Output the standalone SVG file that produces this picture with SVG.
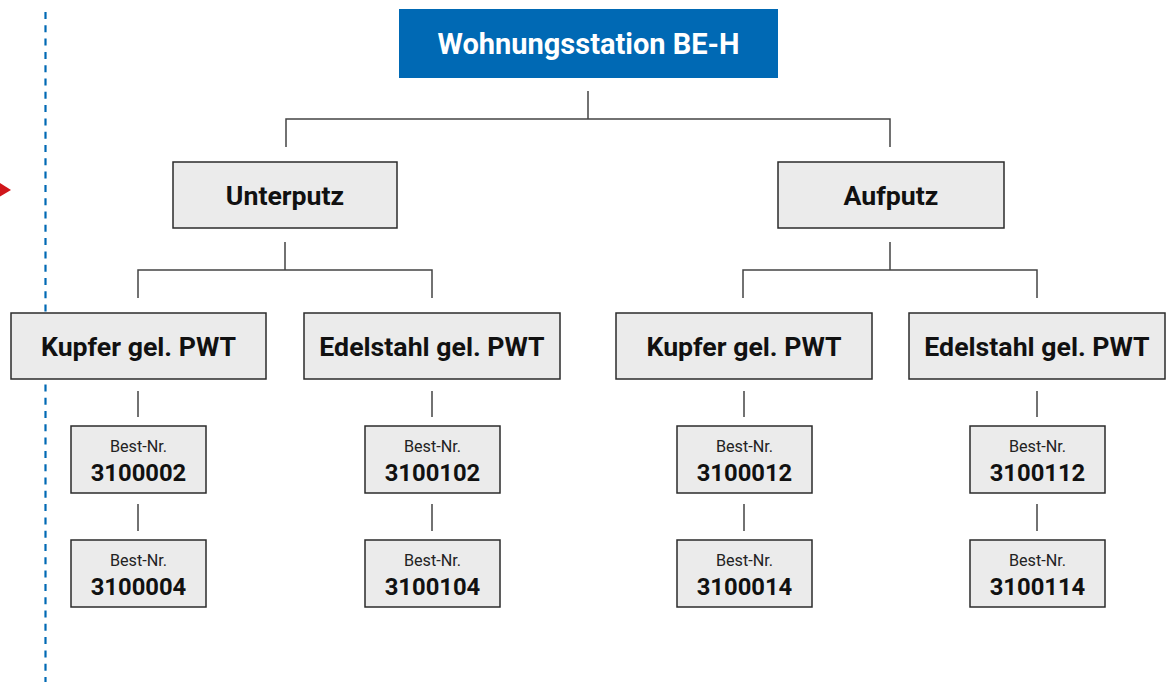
<svg xmlns="http://www.w3.org/2000/svg" width="1166" height="682" viewBox="0 0 1166 682">
<style>
.box{fill:#ebebeb;stroke:#2b2b2b;stroke-width:1.5}
.t{font-family:Roboto,"Liberation Sans",sans-serif;font-weight:bold;fill:#111;text-anchor:middle}
.l2{font-size:26.7px}
.s{font-family:Roboto,"Liberation Sans",sans-serif;font-size:16.2px;fill:#222;text-anchor:middle}
.n{font-size:23.8px}
.c{stroke:#444;stroke-width:1.5;fill:none}
</style>
<rect width="1166" height="682" fill="#fff"/>
<line x1="45.5" y1="12" x2="45.5" y2="682" stroke="#0069b4" stroke-width="2.2" stroke-dasharray="7 6.3"/>
<polygon points="0,183 11,190 0,196.5" fill="#d0161b"/>
<g id="connectors" class="c">
<path d="M588 91V119M286 147V119H890V147"/>
<path d="M285 242V270M138 298V270H432V298"/>
<path d="M890 242V270M743 298V270H1037V298"/>
<path d="M138 391V417M138 504V531"/>
<path d="M432 391V417M432 504V531"/>
<path d="M744 391V417M744 504V531"/>
<path d="M1037 391V417M1037 504V531"/>
</g>
<g id="root"><rect x="399" y="9" width="379" height="69" fill="#0069b4"/><text x="588.5" y="54" class="t" style="font-size:29px;fill:#fff">Wohnungsstation BE-H</text></g>
<g id="unterputz"><rect class="box" x="173" y="162" width="224" height="66"/><text x="285" y="205" class="t l2">Unterputz</text></g>
<g id="aufputz"><rect class="box" x="778" y="162" width="226" height="66"/><text x="891" y="205" class="t l2">Aufputz</text></g>
<g id="up-kupfer"><rect class="box" x="11" y="313" width="255" height="66"/><text x="138.5" y="356" class="t l2">Kupfer gel. PWT</text></g>
<g id="up-edelstahl"><rect class="box" x="304" y="313" width="256" height="66"/><text x="432" y="356" class="t l2">Edelstahl gel. PWT</text></g>
<g id="ap-kupfer"><rect class="box" x="616" y="313" width="256" height="66"/><text x="744" y="356" class="t l2">Kupfer gel. PWT</text></g>
<g id="ap-edelstahl"><rect class="box" x="909" y="313" width="256" height="66"/><text x="1037" y="356" class="t l2">Edelstahl gel. PWT</text></g>
<g id="n3100002"><rect class="box" x="71" y="426" width="135" height="67"/><text x="138.5" y="452" class="s">Best-Nr.</text><text x="138.5" y="481" class="t n">3100002</text></g>
<g id="n3100004"><rect class="box" x="71" y="540" width="135" height="67"/><text x="138.5" y="566" class="s">Best-Nr.</text><text x="138.5" y="595" class="t n">3100004</text></g>
<g id="n3100102"><rect class="box" x="365" y="426" width="135" height="67"/><text x="432.5" y="452" class="s">Best-Nr.</text><text x="432.5" y="481" class="t n">3100102</text></g>
<g id="n3100104"><rect class="box" x="365" y="540" width="135" height="67"/><text x="432.5" y="566" class="s">Best-Nr.</text><text x="432.5" y="595" class="t n">3100104</text></g>
<g id="n3100012"><rect class="box" x="677" y="426" width="135" height="67"/><text x="744.5" y="452" class="s">Best-Nr.</text><text x="744.5" y="481" class="t n">3100012</text></g>
<g id="n3100014"><rect class="box" x="677" y="540" width="135" height="67"/><text x="744.5" y="566" class="s">Best-Nr.</text><text x="744.5" y="595" class="t n">3100014</text></g>
<g id="n3100112"><rect class="box" x="970" y="426" width="135" height="67"/><text x="1037.5" y="452" class="s">Best-Nr.</text><text x="1037.5" y="481" class="t n">3100112</text></g>
<g id="n3100114"><rect class="box" x="970" y="540" width="135" height="67"/><text x="1037.5" y="566" class="s">Best-Nr.</text><text x="1037.5" y="595" class="t n">3100114</text></g>
</svg>
